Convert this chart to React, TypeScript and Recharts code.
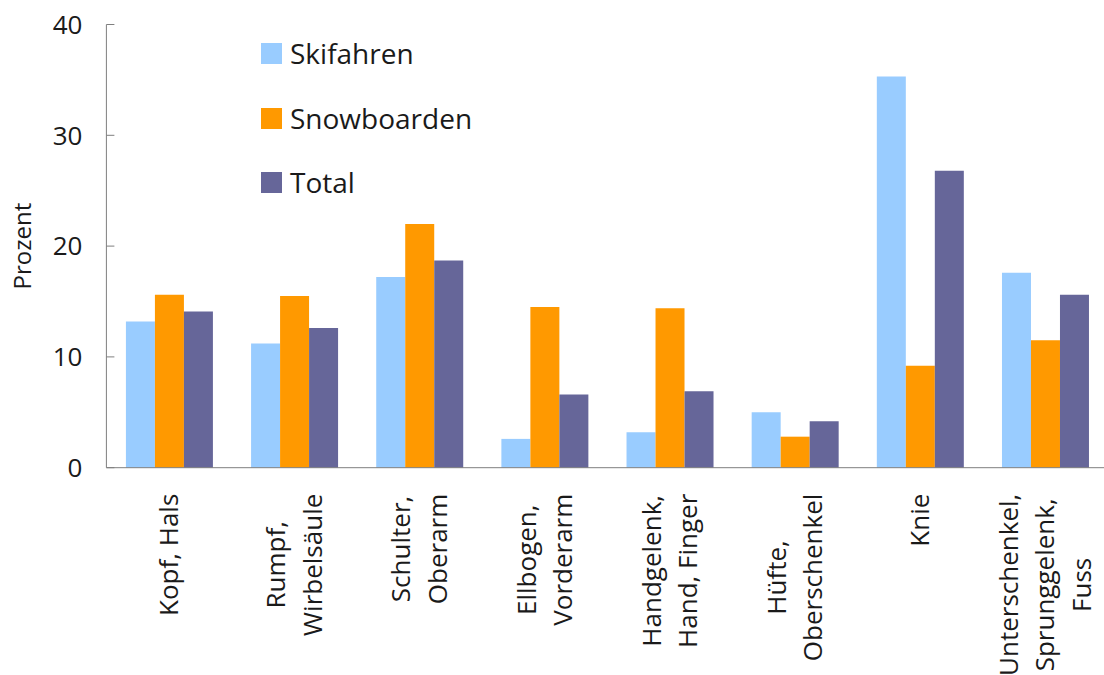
import React from 'react';
import { BarChart, Bar, XAxis, YAxis, Legend } from 'recharts';

const categories = [
  'Kopf, Hals',
  'Rumpf,\nWirbelsäule',
  'Schulter,\nOberarm',
  'Ellbogen,\nVorderarm',
  'Handgelenk,\nHand, Finger',
  'Hüfte,\nOberschenkel',
  'Knie',
  'Unterschenkel,\nSprunggelenk,\nFuss',
];
const skifahren = [13.2, 11.2, 17.2, 2.6, 3.2, 5.0, 35.3, 17.6];
const snowboarden = [15.6, 15.5, 22.0, 14.5, 14.4, 2.8, 9.2, 11.5];
const total = [14.1, 12.6, 18.7, 6.6, 6.9, 4.2, 26.8, 15.6];
const yTicks = [0, 10, 20, 30, 40];

const seriesNames = ['Skifahren', 'Snowboarden', 'Total'];
const colors = ['#99CCFF', '#FF9900', '#666699'];

const data = categories.map((c, i) => ({
  name: c,
  Skifahren: skifahren[i],
  Snowboarden: snowboarden[i],
  Total: total[i],
}));

const FONT = '"Open Sans", "Noto Sans", sans-serif';
const FS = 26;
const TEXT = '#1a1a1a';
const AXIS = '#7f7f7f';

let ctx: CanvasRenderingContext2D | null = null;
function measure(s: string): number {
  if (!ctx) {
    const c = document.createElement('canvas');
    ctx = c.getContext('2d');
  }
  if (!ctx) return s.length * FS * 0.5;
  ctx.font = `${FS}px "Open Sans"`;
  return ctx.measureText(s).width;
}

const XTick = (props: any) => {
  const { x, y, payload } = props;
  const lines: string[] = String(payload.value).split('\n');
  const maxW = Math.max(...lines.map(measure));
  const L = 36.5;
  const n = lines.length;
  return (
    <g transform={`translate(${x},${y + 26}) rotate(-90)`}>
      {lines.map((ln, i) => (
        <text
          key={i}
          x={-maxW / 2}
          y={(i - (n - 1) / 2) * L}
          dy="0.36em"
          textAnchor="middle"
          fontFamily={FONT}
          fontSize={FS}
          fill={TEXT}
        >
          {ln}
        </text>
      ))}
    </g>
  );
};

const YTick = (props: any) => {
  const { x, y, payload } = props;
  return (
    <g>
      <line x1={x} y1={y} x2={x + 8} y2={y} stroke={AXIS} strokeWidth={1} />
      <text
        x={x - 24}
        y={y}
        dy="0.36em"
        textAnchor="end"
        fontFamily={FONT}
        fontSize={FS}
        fill={TEXT}
      >
        {payload.value}
      </text>
    </g>
  );
};

const LegendContent = () => (
  <div style={{ position: 'relative', width: 240, height: 170 }}>
    {seriesNames.map((s, i) => (
      <div
        key={s}
        style={{
          position: 'absolute',
          left: 0,
          top: i * 64.5,
          height: 21,
          display: 'flex',
          alignItems: 'center',
          whiteSpace: 'nowrap',
        }}
      >
        <div style={{ width: 21, height: 21, background: colors[i] }} />
        <span
          style={{
            marginLeft: 8,
            fontFamily: FONT,
            fontSize: 28,
            lineHeight: '21px',
            color: TEXT,
          }}
        >
          {s}
        </span>
      </div>
    ))}
  </div>
);

const YLabel = (props: any) => {
  const vb = props.viewBox || { x: 0, y: 0, width: 0, height: 0 };
  const cx = 22;
  const cy = vb.y + vb.height / 2;
  return (
    <text
      transform={`translate(${cx},${cy}) rotate(-90)`}
      textAnchor="middle"
      dy="0.36em"
      fontFamily={FONT}
      fontSize={FS - 2}
      fill={TEXT}
    >
      Prozent
    </text>
  );
};

export default function App() {
  return (
    <div
      style={{
        position: 'absolute',
        left: 0,
        top: 0,
        width: 1104,
        height: 675,
        overflow: 'hidden',
        background: '#fff',
      }}
    >
      <BarChart
        width={1110}
        height={675}
        data={data}
        margin={{ top: 24.5, right: 2.4, bottom: 0, left: 0 }}
        barCategoryGap="15.6%"
        barGap={0}
      >
        <XAxis
          dataKey="name"
          interval={0}
          tickLine={false}
          tickSize={0}
          tickMargin={0}
          height={207.3}
          stroke={AXIS}
          tick={<XTick />}
        />
        <YAxis
          domain={[0, 40]}
          ticks={yTicks}
          width={106.4}
          tickLine={false}
          tickSize={0}
          tickMargin={0}
          stroke={AXIS}
          tick={<YTick />}
          label={{ content: <YLabel /> } as any}
        />
        <Legend
          verticalAlign="middle"
          align="center"
          layout="horizontal"
          content={<LegendContent />}
          wrapperStyle={{ position: 'absolute', left: 261, top: 43, width: 240, height: 170 }}
        />
        {seriesNames.map((s, i) => (
          <Bar key={s} dataKey={s} fill={colors[i]} isAnimationActive={false} />
        ))}
      </BarChart>
    </div>
  );
}
